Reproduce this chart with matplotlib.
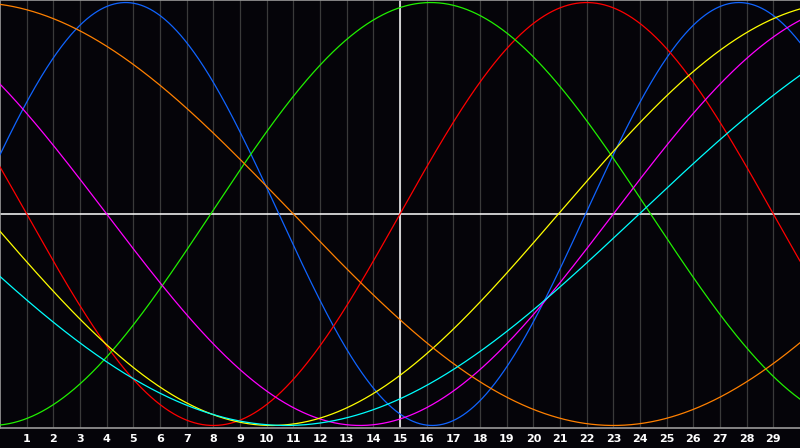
import numpy as np
import matplotlib
matplotlib.use("Agg")
from matplotlib import pyplot as plt

# biorhythm cycles: period (days) and day of rising zero crossing
cycle_names = ["physical", "emotional", "intellectual", "intuitive", "aesthetic", "awareness", "spiritual"]
periods = [23, 28, 33, 38, 43, 48, 53]
rise_days = [21.96, 15.0, 7.9, 23.0, 20.94, -13.0, 23.97]
colors = ["#1064ff", "#ff0000", "#20f000", "#ff00ff", "#ffff00", "#ff8000", "#00ffff"]

days = list(range(1, 30))
day_labels = [str(d) for d in days]
n_days = 30
today = 15

bg = "#050409"

fig = plt.figure(figsize=(8, 4.48), dpi=100, facecolor=bg)
ax = fig.add_axes([0, 20 / 448, 1, 428 / 448], facecolor=bg)

# day grid
for d in days:
    ax.axvline(d, color="#3a3a3a", lw=0.9, zorder=1)

ax.axhline(0, color="white", lw=1.1, zorder=2)
ax.axvline(today, color="white", lw=1.1, zorder=2)

t = np.linspace(0, n_days, 1200)
for p, r, c in zip(periods, rise_days, colors):
    ax.plot(t, np.sin(2 * np.pi * (t - r) / p), color=c, lw=0.9, zorder=3)

ax.set_xlim(0, n_days)
ax.set_ylim(-1.012, 1.012)

ax.spines["right"].set_visible(False)
for side in ["left", "top", "bottom"]:
    ax.spines[side].set_color("#9a9a9a")
    ax.spines[side].set_linewidth(1.2)

ax.set_yticks([])
ax.set_xticks(days)
ax.set_xticklabels(day_labels)
ax.tick_params(axis="x", length=0, pad=4, colors="white", labelsize=8)
for lbl in ax.get_xticklabels():
    lbl.set_fontweight("bold")

fig.savefig("out.png", dpi=100, facecolor=bg)
